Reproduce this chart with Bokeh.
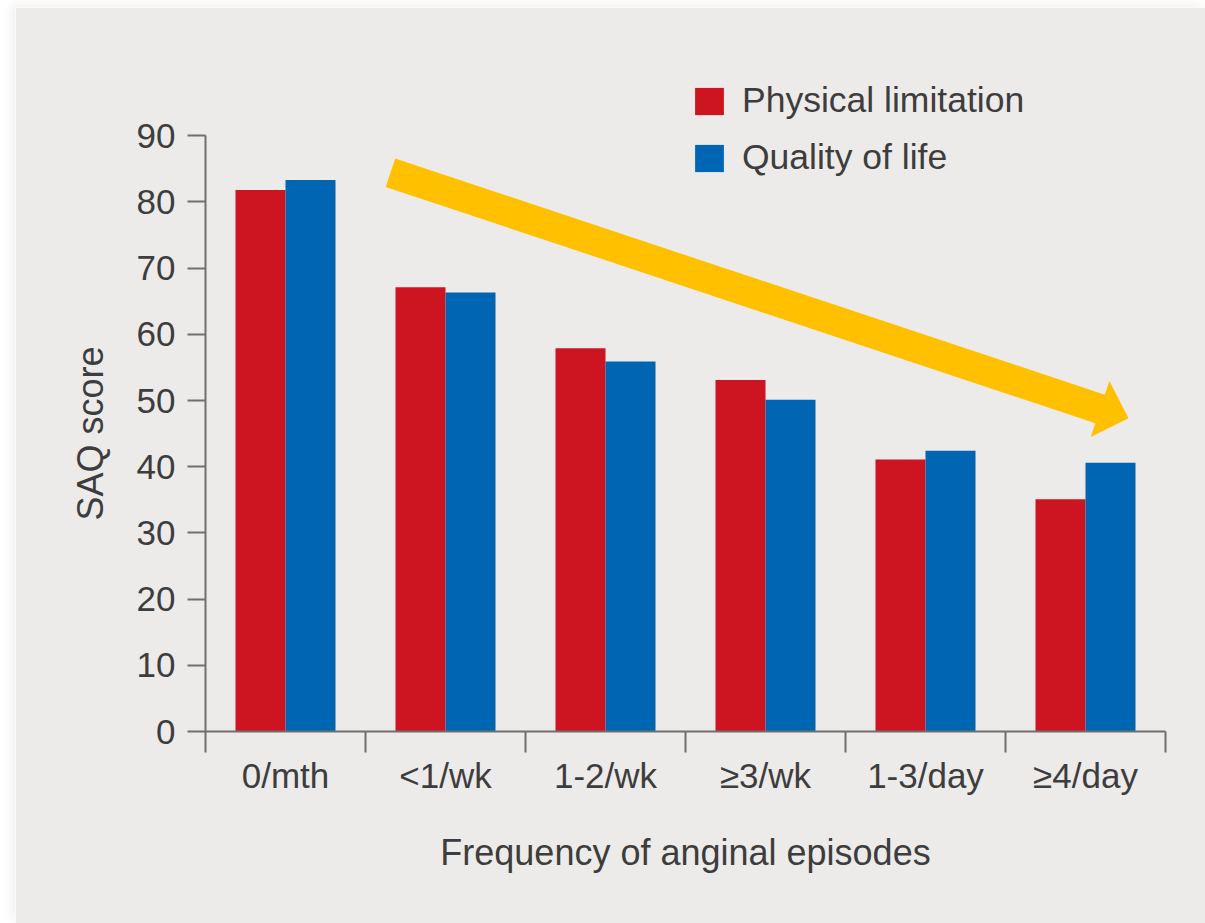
from bokeh.plotting import figure
from bokeh.models import FixedTicker, Legend, LegendItem, ColumnDataSource, Range1d, Title
from bokeh.transform import dodge
from bokeh.embed import file_html
from bokeh.resources import INLINE

# Chart data
categories = ["0/mth", "<1/wk", "1-2/wk", "≥3/wk", "1-3/day", "≥4/day"]
physical_limitation = [81.8, 67.1, 57.9, 53.1, 41.1, 35.1]
quality_of_life = [83.3, 66.3, 55.9, 50.1, 42.4, 40.6]
y_ticks = [0, 10, 20, 30, 40, 50, 60, 70, 80, 90]
series_names = ["Physical limitation", "Quality of life"]

# Styling
PANEL = "#edebe9"
RED = "#cc1520"
BLUE = "#0066b3"
YELLOW = "#ffc000"
AXIS = "#6f6f6f"
TEXT = "#3d3d3d"
FONT = "Liberation Sans"

# The frame reaches above the 90 tick so the legend has room; the axis stops at 90
FRAME_W, FRAME_H = 960, 662
X_MAX, Y_TOP, Y_AXIS_MAX = len(categories), 100, 90
BAR_W = 0.3125

centers = [i + 0.5 for i in range(len(categories))]
source = ColumnDataSource(dict(
    x=centers,
    phys=physical_limitation,
    qol=quality_of_life,
))

p = figure(
    frame_width=FRAME_W, frame_height=FRAME_H,
    x_range=Range1d(0, X_MAX), y_range=Range1d(0, Y_TOP),
    min_border_left=190, min_border_top=62,
    min_border_right=40, min_border_bottom=192,
    output_backend="svg", toolbar_location=None,
    background_fill_color=PANEL, border_fill_color=PANEL,
    outline_line_color=PANEL, outline_line_width=2,
)
p.margin = (7, 0, 0, 15)
p.styles = {"box-shadow": "-4px -3px 10px rgba(0,0,0,0.06)"}
p.grid.visible = False

r_phys = p.vbar(x=dodge("x", -BAR_W / 2, range=p.x_range), top="phys", width=BAR_W,
                source=source, fill_color=RED, line_color=None)
r_qol = p.vbar(x=dodge("x", BAR_W / 2, range=p.x_range), top="qol", width=BAR_W,
               source=source, fill_color=BLUE, line_color=None)

# Trend arrow, defined in data units and converted to a filled polygon
ARROW_TAIL = (1.156, 84.4)
ARROW_TIP = (5.769, 47.3)
SHAFT_PX, HEAD_W_PX, HEAD_L_PX = 30, 59, 30
ppx = FRAME_W / X_MAX
ppy = FRAME_H / Y_TOP
tx, ty = ARROW_TAIL[0] * ppx, ARROW_TAIL[1] * ppy
hx, hy = ARROW_TIP[0] * ppx, ARROW_TIP[1] * ppy
dx, dy = hx - tx, hy - ty
length = (dx * dx + dy * dy) ** 0.5
ux, uy = dx / length, dy / length
nx, ny = -uy, ux
bx, by = hx - ux * HEAD_L_PX, hy - uy * HEAD_L_PX
pts = [
    (tx + nx * SHAFT_PX / 2, ty + ny * SHAFT_PX / 2),
    (bx + nx * SHAFT_PX / 2, by + ny * SHAFT_PX / 2),
    (bx + nx * HEAD_W_PX / 2, by + ny * HEAD_W_PX / 2),
    (hx, hy),
    (bx - nx * HEAD_W_PX / 2, by - ny * HEAD_W_PX / 2),
    (bx - nx * SHAFT_PX / 2, by - ny * SHAFT_PX / 2),
    (tx - nx * SHAFT_PX / 2, ty - ny * SHAFT_PX / 2),
]
p.patch([q[0] / ppx for q in pts], [q[1] / ppy for q in pts],
        fill_color=YELLOW, line_color=None)

# Axes
xa = p.xaxis[0]
xa.ticker = FixedTicker(ticks=centers, minor_ticks=list(range(X_MAX + 1)))
xa.major_label_overrides = {c: lab for c, lab in zip(centers, categories)}
xa.major_tick_out = 0
xa.major_tick_in = 0
xa.minor_tick_out = 21
xa.minor_tick_in = 0
xa.minor_tick_line_color = AXIS
xa.minor_tick_line_width = 2
xa.major_label_standoff = 3
xa.axis_label = "Frequency of anginal episodes"
xa.axis_label_standoff = 34

ya = p.yaxis[0]
ya.bounds = (0, Y_AXIS_MAX)
ya.ticker = FixedTicker(ticks=y_ticks, minor_ticks=[])
ya.major_tick_out = 18
ya.major_tick_in = 0
ya.major_label_standoff = 12

for ax in (xa, ya):
    ax.axis_line_color = AXIS
    ax.axis_line_width = 2
    ax.major_tick_line_color = AXIS
    ax.major_tick_line_width = 2
    ax.major_label_text_font = FONT
    ax.major_label_text_font_size = "35px"
    ax.major_label_text_color = TEXT
    ax.axis_label_text_font = FONT
    ax.axis_label_text_font_size = "36px"
    ax.axis_label_text_font_style = "normal"
    ax.axis_label_text_color = TEXT

# Y axis title, centred on the 0-90 span of the axis
y_title = Title(text="SAQ score", align="left", offset=211,
                text_font=FONT, text_font_size="36px", text_font_style="normal",
                text_color=TEXT, standoff=46)
p.add_layout(y_title, "left")

legend = Legend(
    items=[LegendItem(label=series_names[0], renderers=[r_phys]),
           LegendItem(label=series_names[1], renderers=[r_qol])],
    location=(486, 553),
    orientation="vertical",
    background_fill_alpha=0, border_line_color=None,
    padding=0, margin=0, spacing=16,
    glyph_width=36, glyph_height=34, label_height=34,
    label_standoff=15,
    label_text_font=FONT, label_text_font_size="35.5px", label_text_color=TEXT,
)
p.add_layout(legend, "center")

open("out.html", "w").write(file_html(p, INLINE))
